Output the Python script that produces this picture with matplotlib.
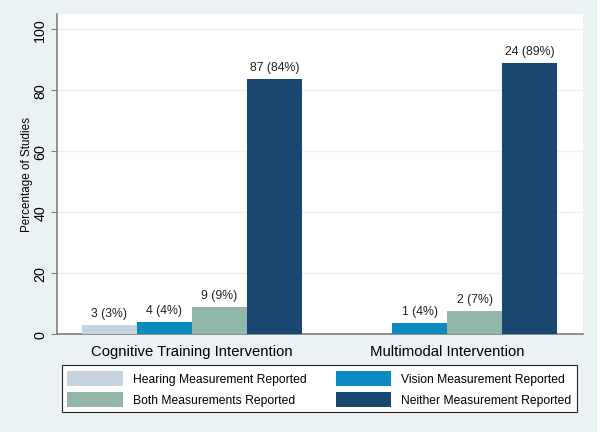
import matplotlib
matplotlib.use("Agg")
import matplotlib.pyplot as plt
from matplotlib.patches import Rectangle, Patch
import numpy as np

# --- data ---
groups = ["Cognitive Training Intervention", "Multimodal Intervention"]
series = ["Hearing Measurement Reported", "Vision Measurement Reported",
          "Both Measurements Reported", "Neither Measurement Reported"]
hearing = [2.9, 0.0]
vision = [3.8, 3.7]
both = [8.7, 7.4]
neither = [83.7, 88.9]
hearing_lab = ["3 (3%)", ""]
vision_lab = ["4 (4%)", "1 (4%)"]
both_lab = ["9 (9%)", "2 (7%)"]
neither_lab = ["87 (84%)", "24 (89%)"]

colors = ["#C6D3DF", "#0A8ABF", "#93B6AB", "#1A476F"]
bg = "#EAF2F3"

plt.rcParams["font.family"] = ["Liberation Sans", "DejaVu Sans"]

fig = plt.figure(figsize=(6, 4.35), dpi=100)
fig.patch.set_facecolor("white")
# stata-like outer background
fig.add_artist(Rectangle((0, 2 / 435), 597 / 600, 433 / 435, transform=fig.transFigure,
                         facecolor=bg, edgecolor="none", zorder=-10))

ax = fig.add_axes([57 / 600, 100 / 435, 526 / 600, 320 / 435])
ax.set_facecolor("white")

x = np.arange(len(groups))
w = 0.2157
vals = [hearing, vision, both, neither]
labs = [hearing_lab, vision_lab, both_lab, neither_lab]
for i, (v, lb) in enumerate(zip(vals, labs)):
    pos = x + (i - 1.5) * w
    bars = ax.bar(pos, v, width=w, color=colors[i], edgecolor="none", zorder=3)
    for b, val, t in zip(bars, v, lb):
        if t:
            ax.text(b.get_x() + b.get_width() / 2, val + 2.0, t, ha="center", va="bottom",
                    fontsize=8.8, color="#222222")

ax.set_xlim(-0.529, 1.533)
ax.set_ylim(0, 104.9)
ax.set_yticks([0, 20, 40, 60, 80, 100])
ax.set_yticklabels(["0", "20", "40", "60", "80", "100"], rotation=90, va="center", fontsize=10.3)
ax.grid(axis="y", color=bg, linewidth=1.0, zorder=0)
ax.set_xticks(x)
ax.set_xticklabels(groups, fontsize=10.7)
ax.tick_params(axis="x", length=0, pad=7.5)
ax.tick_params(axis="y", length=4, width=0.8, color="#7f7f7f", pad=3)
ax.set_ylabel("Percentage of Studies", fontsize=8.4, labelpad=0)
for s in ["top", "right"]:
    ax.spines[s].set_visible(False)
for s in ["left", "bottom"]:
    ax.spines[s].set_color("#7f7f7f")
    ax.spines[s].set_linewidth(1.2)

handles = [Patch(facecolor=c, edgecolor="none", label=l) for c, l in zip(colors, series)]
order = [0, 2, 1, 3]
leg = fig.legend([handles[k] for k in order], [series[k] for k in order],
                 loc="lower left", ncol=2, mode="expand",
                 bbox_to_anchor=(62 / 600, 22 / 435, 515 / 600, 48 / 435),
                 borderaxespad=0,
                 fontsize=8.7, handlelength=4.6, handleheight=1.53,
                 handletextpad=0.83, labelspacing=0.5, borderpad=0.45,
                 frameon=True, fancybox=False, edgecolor="#222222", framealpha=1)
leg.get_frame().set_linewidth(0.8)

fig.savefig("out.png", dpi=100, facecolor=fig.get_facecolor())
